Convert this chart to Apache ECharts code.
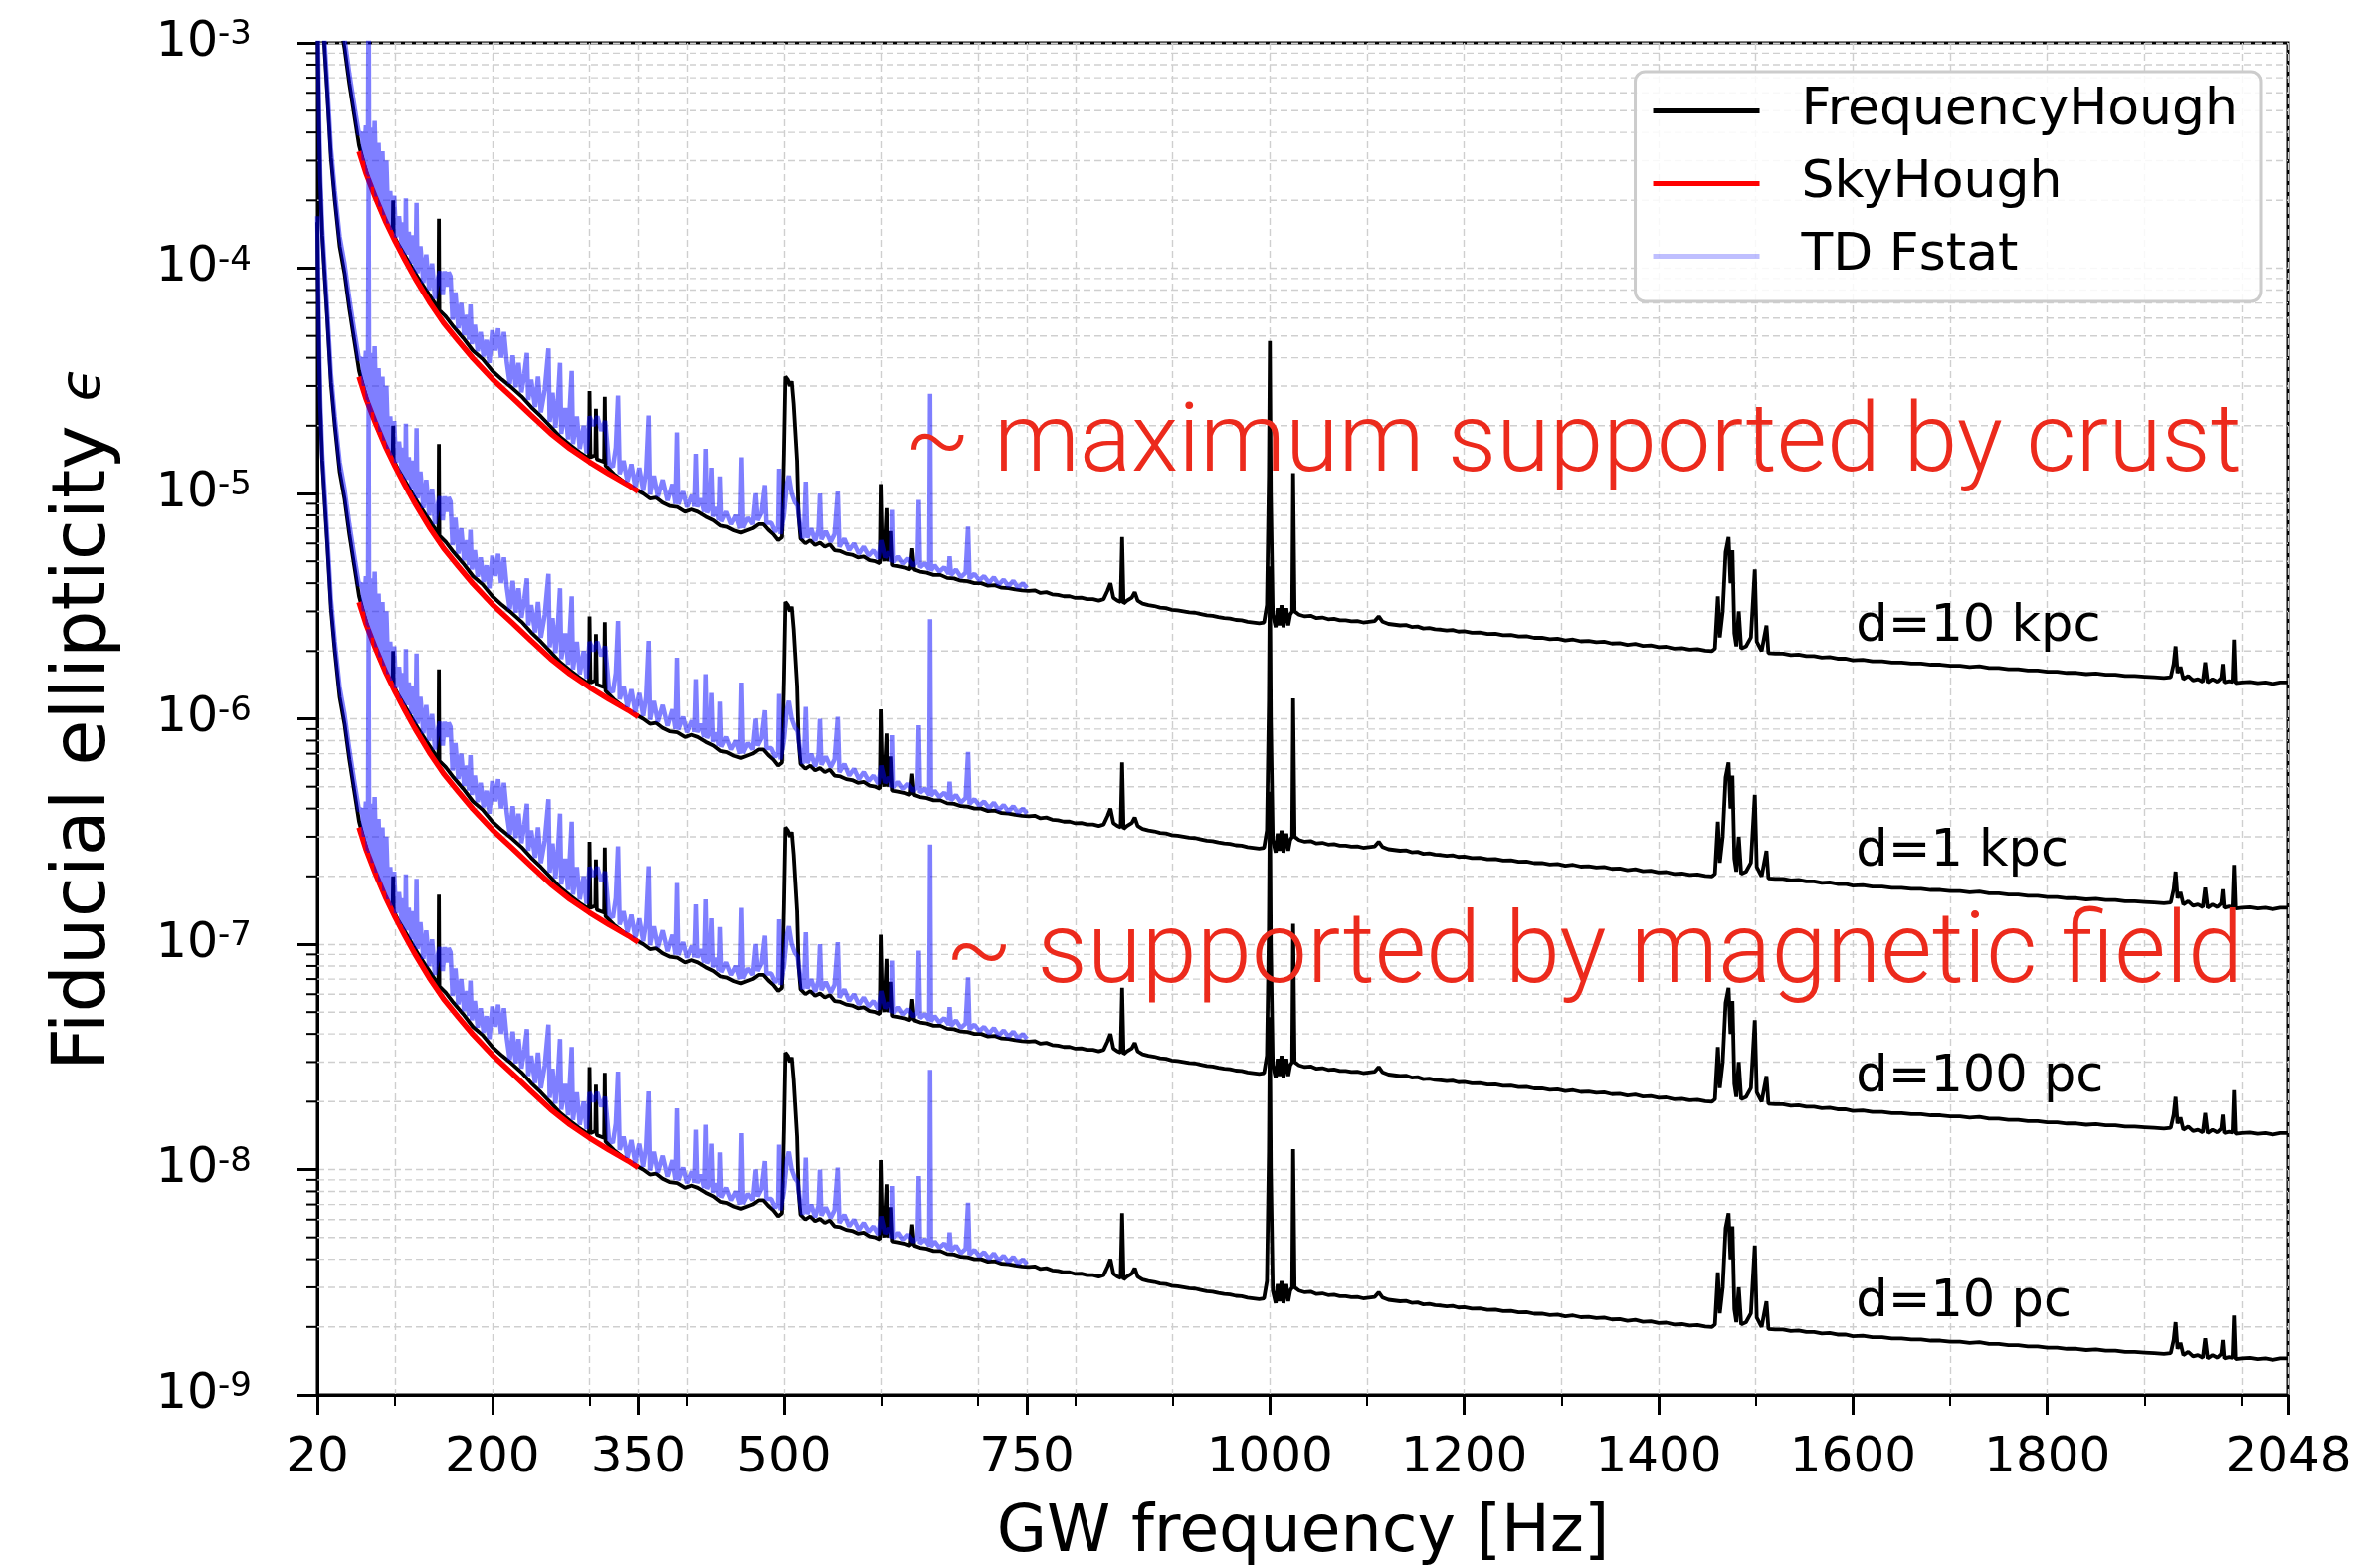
<!DOCTYPE html>
<html><head><meta charset="utf-8">
<script src="https://cdn.jsdelivr.net/npm/echarts@6/dist/echarts.min.js"></script>
<style>html,body{margin:0;padding:0;background:#fff}#c{width:2383px;height:1576px}</style>
</head><body><div id="c"></div>
<script>
// ---------------- DATA (values for the d = 10 pc family) ----------------
const distanceLabels = ['d=10 kpc', 'd=1 kpc', 'd=100 pc', 'd=10 pc'];
const distanceFactor = [1000, 100, 10, 1]; // relative to d = 10 pc (epsilon scales with d)

const xMajorTicks = [20, 200, 350, 500, 750, 1000, 1200, 1400, 1600, 1800, 2048];
const xMinorTicks = [100, 300, 400, 600, 700, 800, 900, 1100, 1300, 1500, 1700, 1900, 2000];

// FrequencyHough [Hz, epsilon]
const frequencyHough10pc = [
[20,1.6e-4],[20.5,1.0e-4],[21.5,5.0e-5],[23,2.4e-5],[25,1.4e-5],[27,1.0e-5],[30,6.2e-6],[34,3.1e-6],[38,2.0e-6],[43,1.25e-6],
[48,9.5e-7],[53,6.6e-7],[58,4.8e-7],[63,3.5e-7],[68,2.9e-7],[73,2.45e-7],[78,2.15e-7],[84,1.85e-7],[90,1.62e-7],[95,1.47e-7],
[97.5,1.42e-7],[98,2.0e-7],[98.5,1.40e-7],[103,1.28e-7],[110,1.14e-7],[117,1.01e-7],[124,9.0e-8],[131,8.1e-8],[138,7.3e-8],[144.5,6.6e-8],
[145,1.66e-7],[145.5,6.5e-8],[152,6.1e-8],[160,5.5e-8],[170,4.9e-8],[180,4.3e-8],[190,3.95e-8],[200,3.5e-8],[210,3.2e-8],[220,2.95e-8],
[230,2.7e-8],[240,2.42e-8],[250,2.2e-8],[260,1.98e-8],[270,1.78e-8],[280,1.64e-8],[290,1.52e-8],[299.5,1.43e-8],[300,2.85e-8],[301,1.45e-8],
[306,1.48e-8],[306.6,2.38e-8],[307.5,1.42e-8],[315,1.38e-8],[315.7,2.69e-8],[316.5,1.33e-8],[325,1.22e-8],[335,1.13e-8],[345,1.06e-8],[355,1.0e-8],
[362,9.5e-9],[368,9.6e-9],[375,9.1e-9],[382,8.8e-9],[390,8.7e-9],[398,8.3e-9],[405,8.5e-9],[412,8.3e-9],[420,7.9e-9],[428,7.6e-9],
[435,7.2e-9],[442,7.1e-9],[449,6.85e-9],[456,6.7e-9],[462,6.85e-9],[468,7.0e-9],[474,7.3e-9],[479,7.3e-9],[484,6.9e-9],[489,6.6e-9],
[494,6.2e-9],[498,6.4e-9],[500,1.5e-8],[501.5,3.3e-8],[504,3.2e-8],[506,3.0e-8],[508,3.15e-8],[510,2.5e-8],[512,2.45e-8],[513.5,1.4e-8],
[515,8.0e-9],[517,6.3e-9],[522,6.0e-9],[527,6.2e-9],[532,5.9e-9],[537,6.05e-9],[542,5.8e-9],[547,5.95e-9],[552,5.6e-9],[558,5.55e-9],
[564,5.4e-9],[570,5.35e-9],[576,5.2e-9],[582,5.25e-9],[588,5.05e-9],[594,5.0e-9],[598.5,4.9e-9],[599.5,1.1e-8],[601,5.6e-9],[603,5.0e-9],
[605.5,8.6e-9],[607,5.0e-9],[610.5,6.8e-9],[612,4.8e-9],[618,4.75e-9],[624,4.7e-9],[630,4.6e-9],[632,5.7e-9],[634,4.6e-9],[640,4.5e-9],
[647,4.45e-9],[654,4.35e-9],[661,4.35e-9],[668,4.22e-9],[675,4.2e-9],[682,4.1e-9],[689,4.08e-9],[696,4.0e-9],[703,4.0e-9],[710,3.9e-9],
[717,3.92e-9],[724,3.82e-9],[731,3.8e-9],[738,3.75e-9],[745,3.72e-9],[752,3.7e-9],[758,3.72e-9],[764,3.62e-9],[770,3.65e-9],[776,3.57e-9],
[782,3.55e-9],[788,3.5e-9],[794,3.5e-9],[800,3.44e-9],[806,3.45e-9],[812,3.4e-9],[818,3.4e-9],[824,3.35e-9],[829,3.4e-9],[833,3.7e-9],
[836,4.0e-9],[839,3.45e-9],[843,3.35e-9],[846.5,3.3e-9],[848,6.4e-9],[849.5,3.25e-9],[853,3.35e-9],[858,3.45e-9],[861,3.65e-9],[864,3.35e-9],
[869,3.25e-9],[875,3.2e-9],[881,3.17e-9],[887,3.12e-9],[893,3.1e-9],[899,3.05e-9],[905,3.03e-9],[911,3.0e-9],[917,2.97e-9],[923,2.96e-9],
[929,2.92e-9],[935,2.88e-9],[941,2.87e-9],[947,2.83e-9],[953,2.8e-9],[959,2.79e-9],[965,2.75e-9],[971,2.74e-9],[977,2.7e-9],[983,2.68e-9],
[989,2.66e-9],[994,2.68e-9],[997,3.2e-9],[999,1.2e-8],[1000,4.75e-8],[1001,1.0e-8],[1003,2.9e-9],[1006,2.55e-9],[1008,3.1e-9],[1010,2.6e-9],
[1012,3.2e-9],[1014,2.55e-9],[1017,3.1e-9],[1019,2.6e-9],[1021,2.9e-9],[1023,3.0e-9],[1024,1.23e-8],[1025.5,3.0e-9],[1030,2.9e-9],[1036,2.85e-9],
[1042,2.87e-9],[1048,2.8e-9],[1054,2.82e-9],[1060,2.77e-9],[1066,2.78e-9],[1072,2.74e-9],[1078,2.74e-9],[1084,2.71e-9],[1090,2.72e-9],[1096,2.68e-9],
[1102,2.7e-9],[1108,2.72e-9],[1112,2.85e-9],[1116,2.7e-9],[1122,2.64e-9],[1128,2.62e-9],[1134,2.6e-9],[1140,2.61e-9],[1146,2.56e-9],[1152,2.57e-9],
[1158,2.52e-9],[1164,2.53e-9],[1170,2.5e-9],[1176,2.49e-9],[1182,2.47e-9],[1188,2.48e-9],[1194,2.44e-9],[1200,2.45e-9],[1208,2.41e-9],[1216,2.42e-9],
[1224,2.38e-9],[1232,2.39e-9],[1240,2.35e-9],[1248,2.36e-9],[1256,2.32e-9],[1264,2.33e-9],[1272,2.29e-9],[1280,2.29e-9],[1288,2.26e-9],[1296,2.27e-9],
[1304,2.23e-9],[1312,2.25e-9],[1320,2.21e-9],[1328,2.22e-9],[1336,2.19e-9],[1344,2.2e-9],[1352,2.16e-9],[1360,2.17e-9],[1368,2.13e-9],[1376,2.15e-9],
[1384,2.11e-9],[1392,2.12e-9],[1400,2.08e-9],[1408,2.09e-9],[1416,2.05e-9],[1424,2.06e-9],[1432,2.03e-9],[1440,2.04e-9],[1448,2.01e-9],[1455,2.0e-9],
[1458,2.05e-9],[1461,3.5e-9],[1463,2.3e-9],[1466,3.0e-9],[1469,5.5e-9],[1472,6.4e-9],[1474,4.0e-9],[1476,5.6e-9],[1478,2.4e-9],[1480,2.1e-9],
[1482.5,3.0e-9],[1485,2.05e-9],[1490,2.1e-9],[1495,2.3e-9],[1499,4.6e-9],[1501,2.2e-9],[1506,2.0e-9],[1511,2.6e-9],[1513,1.96e-9],[1520,1.95e-9],
[1528,1.95e-9],[1536,1.92e-9],[1544,1.93e-9],[1552,1.9e-9],[1560,1.9e-9],[1568,1.87e-9],[1576,1.88e-9],[1584,1.85e-9],[1592,1.85e-9],[1600,1.82e-9],
[1610,1.83e-9],[1620,1.8e-9],[1630,1.8e-9],[1640,1.78e-9],[1650,1.78e-9],[1660,1.76e-9],[1670,1.76e-9],[1680,1.74e-9],[1690,1.74e-9],[1700,1.72e-9],
[1710,1.72e-9],[1720,1.7e-9],[1730,1.71e-9],[1740,1.68e-9],[1750,1.68e-9],[1760,1.66e-9],[1770,1.66e-9],[1780,1.64e-9],[1790,1.64e-9],[1800,1.62e-9],
[1810,1.62e-9],[1820,1.6e-9],[1830,1.6e-9],[1840,1.58e-9],[1850,1.59e-9],[1860,1.57e-9],[1870,1.57e-9],[1880,1.55e-9],[1890,1.55e-9],[1900,1.54e-9],
[1910,1.53e-9],[1920,1.52e-9],[1927,1.53e-9],[1930,1.75e-9],[1932,2.1e-9],[1934,1.6e-9],[1937,1.7e-9],[1940,1.5e-9],[1945,1.55e-9],[1950,1.48e-9],
[1955,1.5e-9],[1960,1.46e-9],[1962.5,1.78e-9],[1965,1.45e-9],[1970,1.5e-9],[1975,1.46e-9],[1979,1.52e-9],[1980.5,1.75e-9],[1982,1.45e-9],[1987,1.47e-9],
[1990.5,1.46e-9],[1992,2.25e-9],[1993.5,1.44e-9],[2000,1.45e-9],[2008,1.46e-9],[2016,1.44e-9],[2024,1.45e-9],[2032,1.43e-9],[2040,1.45e-9],[2048,1.45e-9]
];

// SkyHough [Hz, epsilon]
const skyHough10pc = [
[63,3.3e-7],[70,2.65e-7],[80,2.05e-7],[90,1.62e-7],[100,1.32e-7],[110,1.09e-7],[120,9.1e-8],[135,7.1e-8],[150,5.7e-8],[165,4.75e-8],
[180,3.98e-8],[200,3.22e-8],[220,2.68e-8],[240,2.22e-8],[260,1.85e-8],[280,1.58e-8],[300,1.38e-8],[320,1.22e-8],[340,1.09e-8],[350,1.02e-8]
];

// TD Fstat [Hz, epsilon]
const tdFstat10pc = [
[20,1.7e-4],[21,8e-5],[22,4.2e-5],[23,2.6e-5],[25,1.5e-5],[27,1.1e-5],[30,6.8e-6],[34,3.4e-6],[38,2.2e-6],[43,1.38e-6],
[48,1.05e-6],[53,7.3e-7],[58,5.3e-7],[63,3.9e-7],[66,4.0e-7],[68,3.0e-7],[70,4.3e-7],[72,2.6e-7],[72.8,2.5e-6],[73.4,2.55e-7],
[75,4.2e-7],[77,2.3e-7],[79,4.5e-7],[81,2.08e-7],[83,3.6e-7],[85,1.88e-7],[87,3.3e-7],[89,1.72e-7],[91,3.0e-7],[93,1.58e-7],
[95,2.2e-7],[97,1.48e-7],[99,2.1e-7],[101,1.37e-7],[104,1.7e-7],[107,1.23e-7],[109,1.6e-7],[110.5,1.17e-7],[111,2.04e-7],[111.8,1.15e-7],
[114,1.45e-7],[117,1.05e-7],[119,1.4e-7],[121,9.8e-8],[122,1.95e-7],[123,9.5e-8],[126,1.25e-7],[129,8.6e-8],[132,1.15e-7],[135,8.0e-8],
[138,1.05e-7],[141,7.3e-8],[144,9.0e-8],[146,9.7e-8],[149,7.6e-8],[151,9.7e-8],[153,8.3e-8],[155,9.6e-8],[157,9.2e-8],[159,5.9e-8],
[162,7.8e-8],[165,5.4e-8],[168,7.0e-8],[171,5.05e-8],[174,6.2e-8],[176,4.8e-8],[177.5,6.9e-8],[179,4.6e-8],[182,5.6e-8],[185,4.27e-8],
[188,5.2e-8],[191,4.05e-8],[194,4.8e-8],[197,3.8e-8],[200,5.3e-8],[203,4.3e-8],[206,5.4e-8],[209,4.0e-8],[212,5.2e-8],[215,3.8e-8],
[218,3.07e-8],[221,4.1e-8],[224,2.96e-8],[227,3.8e-8],[230,2.81e-8],[233,3.4e-8],[235.6,4.2e-8],[237,2.6e-8],[240,3.2e-8],[244,2.42e-8],
[247,3.3e-8],[250,2.29e-8],[254,2.9e-8],[257.8,4.4e-8],[259,2.08e-8],[262,2.8e-8],[265,1.96e-8],[267.5,2.6e-8],[269.7,3.8e-8],[271,1.84e-8],
[275,2.4e-8],[278,1.74e-8],[281.7,3.5e-8],[283,1.66e-8],[287,2.2e-8],[290,1.58e-8],[294,2.0e-8],[297,1.51e-8],[300,2.2e-8],[304,2.0e-8],
[308,2.2e-8],[312,1.9e-8],[316,2.1e-8],[320,1.36e-8],[324,1.31e-8],[327,1.6e-8],[329.3,2.72e-8],[331,1.22e-8],[335,1.4e-8],[339,1.13e-8],
[343,1.35e-8],[347,1.07e-8],[351,1.3e-8],[355,1.03e-8],[358,1.25e-8],[360.6,2.22e-8],[362,9.9e-9],[366,1.2e-8],[370,9.7e-9],[375,1.15e-8],
[380,9.3e-9],[385,1.1e-8],[388,9.0e-9],[389.6,1.87e-8],[391,8.95e-9],[396,1.02e-8],[400,8.7e-9],[405,9.8e-9],[408.5,8.75e-9],[410,1.5e-8],
[411.5,8.7e-9],[415,9.5e-9],[418.5,8.3e-9],[420,1.58e-8],[421.5,8.2e-9],[424.5,8.8e-9],[426,1.3e-8],[427.5,7.9e-9],[431,8.7e-9],[433.5,7.6e-9],
[434.6,1.19e-8],[436,7.5e-9],[441,8.3e-9],[446,7.3e-9],[451,8.0e-9],[455,7.0e-9],[456.5,1.45e-8],[458,7.05e-9],[463,7.8e-9],[468,7.3e-9],
[471,1.0e-8],[473,7.6e-9],[477,8.2e-9],[480.4,1.09e-8],[482,7.4e-9],[487,7.4e-9],[491,6.75e-9],[494,7.1e-9],[495,1.29e-8],[496.5,6.6e-9],
[500,8.0e-9],[503,1.1e-8],[505,1.2e-8],[508,1.0e-8],[511,9.2e-9],[514,8.8e-9],[517,7.0e-9],[519,6.3e-9],[521,7.4e-9],[522.4,1.13e-8],
[524,6.35e-9],[528,7.0e-9],[532,6.15e-9],[535.5,6.9e-9],[537,1.0e-8],[538.5,6.25e-9],[543,6.8e-9],[548,6.1e-9],[552,6.6e-9],[555.3,1.02e-8],
[557,5.8e-9],[562,6.3e-9],[567,5.6e-9],[572,6.0e-9],[577,5.4e-9],[582,5.8e-9],[587,5.3e-9],[592,5.6e-9],[597,5.15e-9],[600,6.2e-9],
[604,5.2e-9],[608,5.5e-9],[611,5.0e-9],[612,8.45e-9],[613,4.95e-9],[618,5.25e-9],[623,4.88e-9],[628,5.15e-9],[633,4.78e-9],[637.5,5.0e-9],
[638.7,9.35e-9],[640,4.7e-9],[645,4.9e-9],[649.5,4.6e-9],[650.4,2.77e-8],[651.3,4.55e-9],[655,4.8e-9],[660,4.5e-9],[665,4.7e-9],[669.5,4.4e-9],
[670.5,5.26e-9],[672,4.35e-9],[677,4.6e-9],[682,4.25e-9],[687,4.45e-9],[689.5,7.13e-9],[691,4.2e-9],[696,4.4e-9],[701,4.12e-9],[706,4.3e-9],
[711,4.02e-9],[716,4.25e-9],[721,3.94e-9],[726,4.15e-9],[731,3.88e-9],[736,4.1e-9],[741,3.82e-9],[746,4.0e-9],[750,3.8e-9]
];

// ---------------- CHART ----------------
const chart = echarts.init(document.getElementById('c'), null, {renderer: 'canvas'});
const gridDash = {color: '#cfcfcf', width: 1.4, type: [7, 4]};
const FONT = 'DejaVu Sans';

const scaleSeries = (arr, k) => arr.map(p => [p[0], p[1] * k]);

const series = [];
distanceFactor.forEach((k, i) => {
  series.push({name: 'FrequencyHough', type: 'line', data: scaleSeries(frequencyHough10pc, k),
    symbol: 'none', lineStyle: {color: '#000000', width: 3.8}, itemStyle: {color: '#000000'}, z: 3, silent: true});
  series.push({name: 'SkyHough', type: 'line', data: scaleSeries(skyHough10pc, k),
    symbol: 'none', lineStyle: {color: '#ff0000', width: 5.5}, itemStyle: {color: '#ff0000'}, z: 4, silent: true});
  series.push({name: 'TD Fstat', type: 'line', data: scaleSeries(tdFstat10pc, k),
    symbol: 'none', lineStyle: {color: '#0000ff', width: 4.5, opacity: 0.5}, itemStyle: {color: '#0000ff', opacity: 0.5}, z: 5, silent: true});
});

// minor log gridlines / ticks on the y axis (2..9 x 10^n)
const minorSteps = [2, 3, 4, 5, 6, 7, 8, 9];
const decadeExps = [-9, -8, -7, -6, -5, -4];
const minorY = [];
decadeExps.forEach(e => minorSteps.forEach(m => minorY.push([20, m * Math.pow(10, e)])));
series.push({
  type: 'custom', name: 'minor', data: minorY, silent: true, z: 1, clip: false,
  renderItem: function (params, api) {
    const p = api.coord([api.value(0), api.value(1)]);
    const cs = params.coordSys;
    return {type: 'group', children: [
      {type: 'line', shape: {x1: cs.x, y1: p[1], x2: cs.x + cs.width, y2: p[1]},
        style: {stroke: gridDash.color, lineWidth: gridDash.width, lineDash: gridDash.type}},
      {type: 'line', shape: {x1: cs.x - 11, y1: p[1], x2: cs.x, y2: p[1]},
        style: {stroke: '#000', lineWidth: 2}}
    ]};
  }
});

const option = {
  animation: false,
  backgroundColor: '#ffffff',
  grid: {left: 319, right: 83, top: 43, bottom: 174, show: true, borderColor: '#000', borderWidth: 3,
    backgroundColor: 'transparent', containLabel: false, outerBoundsMode: 'none'},
  legend: {
    data: [
      {name: 'FrequencyHough', icon: 'rect', itemStyle: {color: '#000000'}},
      {name: 'SkyHough', icon: 'rect', itemStyle: {color: '#ff0000'}},
      {name: 'TD Fstat', icon: 'rect', itemStyle: {color: 'rgba(0,0,255,0.5)'}}
    ],
    orient: 'vertical', right: 111, top: 72,
    padding: [10, 23, 16, 18], itemWidth: 107, itemHeight: 5, itemGap: 14,
    borderColor: '#cccccc', borderWidth: 3, borderRadius: 10, backgroundColor: 'rgba(255,255,255,0.85)',
    textStyle: {fontSize: 52, fontFamily: FONT, color: '#000', padding: [0, 0, 0, 37], lineHeight: 59},
    selectedMode: false
  },
  xAxis: [{
    type: 'value', min: 20, max: 2048, position: 'bottom',
    axisLine: {show: true, lineStyle: {color: '#000', width: 3}},
    axisTick: {show: true, customValues: xMajorTicks, length: 20, lineStyle: {color: '#000', width: 3}},
    axisLabel: {customValues: xMajorTicks, margin: 39, fontSize: 50, fontFamily: FONT, color: '#000',
      formatter: function (v) { return String(v); }},
    splitLine: {show: true, lineStyle: gridDash},
    name: 'GW frequency [Hz]', nameLocation: 'middle', nameGap: 108,
    nameTextStyle: {fontSize: 65, fontFamily: FONT, color: '#000'}
  }, {
    type: 'value', min: 20, max: 2048, position: 'bottom',
    axisLine: {show: false},
    axisTick: {show: true, customValues: xMinorTicks, length: 11, lineStyle: {color: '#000', width: 2}},
    axisLabel: {show: false},
    splitLine: {show: true, lineStyle: gridDash}
  }],
  yAxis: {
    type: 'log', logBase: 10, min: 1e-9, max: 1e-3,
    axisLine: {show: true, lineStyle: {color: '#000', width: 3}},
    axisTick: {show: true, length: 20, lineStyle: {color: '#000', width: 3}},
    axisLabel: {
      margin: 66,
      formatter: function (v) { const e = Math.round(Math.log10(v)); return '{b|10}{s|' + e + '}'; },
      rich: {
        b: {fontSize: 49, fontFamily: FONT, color: '#000', lineHeight: 49},
        s: {fontSize: 34, fontFamily: FONT, color: '#000', lineHeight: 24, verticalAlign: 'top'}
      }
    },
    splitLine: {show: true, lineStyle: gridDash},
    name: '{a|Fiducial ellipticity }{e|ϵ}', nameLocation: 'middle', nameGap: 196,
    nameTextStyle: {
      fontSize: 75, fontFamily: FONT, color: '#000',
      rich: {a: {fontSize: 75, fontFamily: FONT, color: '#000'}, e: {fontSize: 56, fontFamily: FONT, fontStyle: 'italic', color: '#000'}}
    }
  },
  series: series
};
chart.setOption(option);

// ---------------- annotations anchored in data space ----------------
const toPx = (f, v) => chart.convertToPixel({gridIndex: 0}, [f, v]);
const labelAnchorFreq = 1603, labelAnchorBase = 2.55e-9;
const graphics = [];
distanceLabels.forEach((t, i) => {
  const p = toPx(labelAnchorFreq, labelAnchorBase * distanceFactor[i]);
  graphics.push({type: 'text', x: p[0], y: p[1], z: 50, silent: true,
    style: {text: t, font: '51px "DejaVu Sans"', fill: '#000', align: 'left', verticalAlign: 'middle'}});
});
const a1 = toPx(624, 1.62e-5), a2 = toPx(666, 8.75e-8);
graphics.push({type: 'text', x: a1[0], y: a1[1], z: 50, silent: true,
  style: {text: '~ maximum supported by crust', font: '300 97px Roboto, "Open Sans", sans-serif', fill: '#ec2a1c', align: 'left', verticalAlign: 'middle'}});
graphics.push({type: 'text', x: a2[0], y: a2[1], z: 50, silent: true,
  style: {text: '~ supported by magnetic field', font: '300 99.5px Roboto, "Open Sans", sans-serif', fill: '#ec2a1c', align: 'left', verticalAlign: 'middle'}});
chart.setOption({graphic: graphics});
</script>
</body></html>
